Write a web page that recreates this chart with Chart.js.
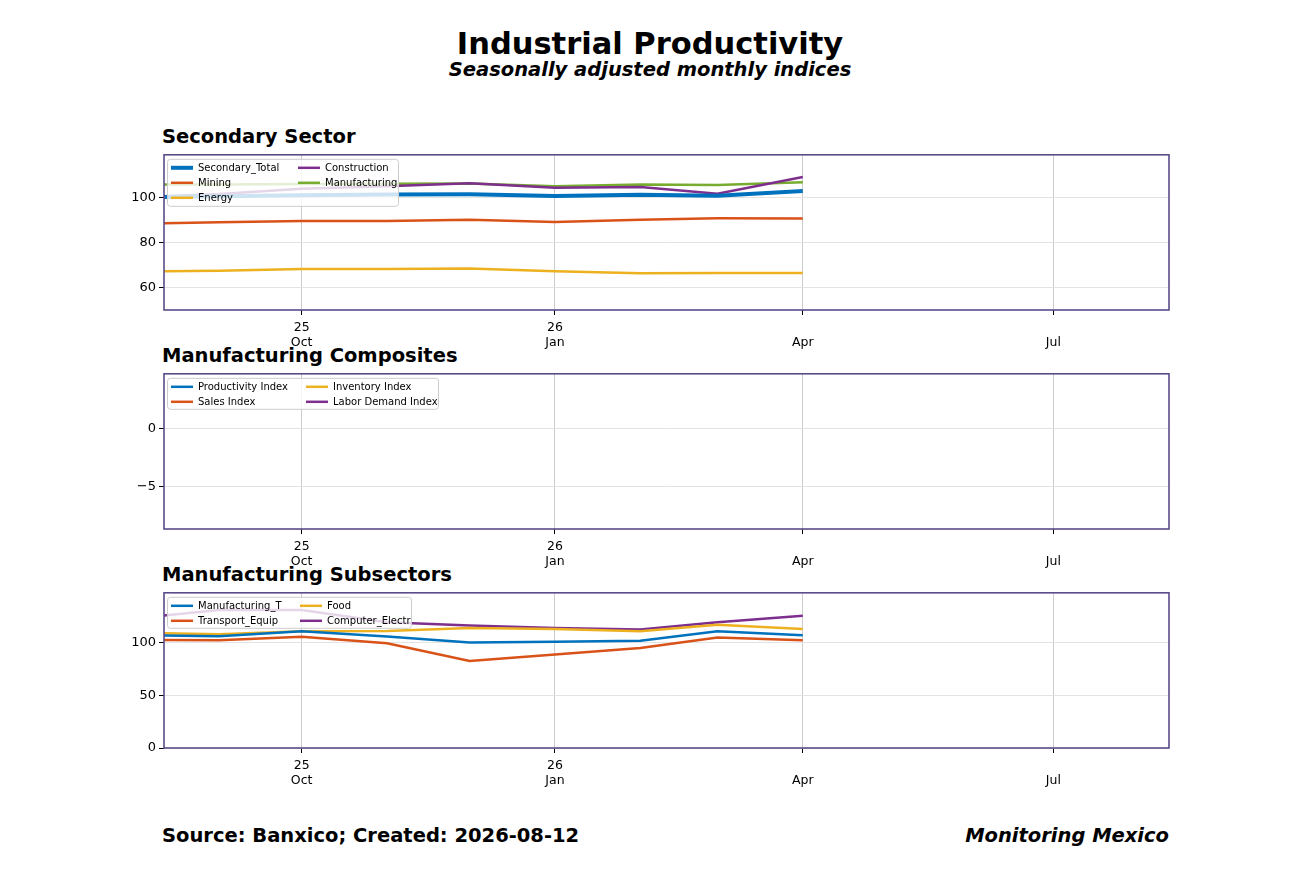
<!DOCTYPE html>
<html><head><meta charset="utf-8">
<script src="https://cdn.jsdelivr.net/npm/chart.js@4.4.0/dist/chart.umd.min.js"></script>
<style>
body{margin:0;width:1300px;height:869px;background:#fff;font-family:"DejaVu Sans",sans-serif;position:relative;overflow:hidden}
.t{position:absolute;font-weight:bold;color:#000;white-space:nowrap}
canvas{position:absolute}
</style></head><body>
<div class="t" style="left:0;width:1300px;text-align:center;top:26px;font-size:30.5px">Industrial Productivity</div>
<div class="t" style="left:0;width:1300px;text-align:center;top:58px;font-size:19.5px;font-style:italic">Seasonally adjusted monthly indices</div>
<div class="t" style="left:162px;top:125px;font-size:19.5px">Secondary Sector</div>
<div class="t" style="left:162px;top:344px;font-size:19.5px">Manufacturing Composites</div>
<div class="t" style="left:162px;top:563px;font-size:19.5px">Manufacturing Subsectors</div>
<div class="t" style="left:162px;top:824px;font-size:19.5px">Source: Banxico; Created: 2026-08-12</div>
<div class="t" style="right:131px;top:824px;font-size:19.5px;font-style:italic">Monitoring Mexico</div>
<div style="position:absolute;left:100px;top:144px;width:1075px;height:211px"><canvas id="a"></canvas></div>
<div style="position:absolute;left:100px;top:363px;width:1075px;height:211px"><canvas id="b"></canvas></div>
<div style="position:absolute;left:100px;top:582px;width:1075px;height:211px"><canvas id="c"></canvas></div>
<script>
// days since 2025-08-01
const monthDays = [0, 31, 61, 92, 122, 153, 184, 212, 243];
const tickDays = [61, 153, 243, 334];
const tickLabels = [["25","Oct"],["26","Jan"],["","Apr"],["","Jul"]];

const secondaryTotal = [100.1, 100.5, 101.0, 101.3, 101.4, 100.7, 101.2, 100.8, 102.9];
const mining = [88.4, 89.0, 89.6, 89.6, 90.1, 89.1, 90.2, 90.8, 90.7];
const energy = [67.2, 67.6, 68.4, 68.4, 68.6, 67.3, 66.5, 66.6, 66.6];
const construction = [100.0, 101.5, 103.9, 105.0, 106.3, 104.3, 104.6, 101.7, 109.1];
const manufacturing = [105.7, 105.8, 106.0, 106.1, 106.2, 105.0, 105.7, 105.5, 106.7];

const productivityIdx = [], salesIdx = [], inventoryIdx = [], laborIdx = [];

const manufT = [106.7, 105.8, 110.4, 105.5, 99.7, 100.5, 101.5, 110.4, 106.7];
const transport = [102.1, 102.0, 105.2, 99.0, 82.3, 88.4, 94.5, 104.6, 102.0];
const food = [109.2, 107.6, 110.4, 110.7, 113.5, 112.5, 110.4, 116.5, 112.5];
const computer = [122.6, 130.6, 130.6, 119.0, 115.9, 113.5, 112.0, 119.0, 125.0];

const BLUE='#0072bd', ORANGE='#d95319', YELLOW='#edb120', PURPLE='#7e2f8e', GREEN='#77ac30';
const pts = arr => arr.map((v,i)=>({x:monthDays[i], y:v}));

function legendPlugin(box){
  return {id:'lg', afterDatasetsDraw(ch){
    const c=ch.ctx, ds=ch.data.datasets, rows=Math.ceil(ds.length/2);
    c.save();
    c.fillStyle='rgba(255,255,255,0.8)'; c.strokeStyle='#cccccc'; c.lineWidth=1;
    const x=ch.chartArea.left+3, y=ch.chartArea.top+4;
    c.beginPath(); c.roundRect(x+0.5,y+0.5,box.w,box.h,3); c.fill(); c.stroke();
    c.font='10px "DejaVu Sans"'; c.textBaseline='middle';
    ds.forEach((d,i)=>{
      const col=Math.floor(i/rows), row=i%rows;
      const lx=x+4+col*box.colW, ly=y+9+row*box.rowH;
      c.strokeStyle=d.borderColor; c.lineWidth=d.borderWidth;
      c.beginPath(); c.moveTo(lx,ly); c.lineTo(lx+22,ly); c.stroke();
      c.fillStyle='#000'; c.fillText(d.label,lx+27,ly+1);
    });
    c.restore();
  }};
}
const frame={id:'fr', afterDraw(ch){
  const a=ch.chartArea,c=ch.ctx; c.save(); c.strokeStyle='#5b4b8a'; c.lineWidth=1.6;
  c.strokeRect(a.left,a.top,a.right-a.left,a.bottom-a.top); c.restore();
}};

function make(id, datasets, ymin, ymax, yticks, box){
  new Chart(document.getElementById(id), {
    type:'line',
    data:{datasets},
    options:{
      responsive:true, maintainAspectRatio:false, animation:false,
      layout:{padding:{top:0,right:6,left:0,bottom:0}},
      plugins:{legend:{display:false}, tooltip:{enabled:false}},
      elements:{point:{radius:0}, line:{tension:0}},
      scales:{
        x:{type:'linear', min:11, max:376,
          afterBuildTicks(s){ s.ticks=tickDays.map(v=>({value:v})); },
          afterFit(s){ s.height=45; },
          ticks:{color:'#000', font:{size:12.5,family:'DejaVu Sans'}, maxRotation:0, autoSkip:false, padding:5,
            callback(v){ const i=tickDays.indexOf(v); return i>=0?tickLabels[i]:''; }},
          grid:{color:'#cccccc', tickColor:'#000', tickLength:5}, border:{display:false}},
        y:{min:ymin, max:ymax,
          afterBuildTicks(s){ s.ticks=yticks.map(v=>({value:v})); },
          afterFit(s){ s.width=64; },
          ticks:{color:'#000', font:{size:13,family:'DejaVu Sans'}, callback:v=>v<0?'\u2212'+Math.abs(v):v},
          grid:{color:'#e3e3e3', tickColor:'#000', tickLength:5}, border:{display:false}}
      }
    },
    plugins:[legendPlugin(box), frame]
  });
}
const L=(label,data,color,w)=>({label,data:pts(data),borderColor:color,backgroundColor:color,borderWidth:w||2.5});

make('a',[L('Secondary_Total',secondaryTotal,BLUE,4),L('Mining',mining,ORANGE),L('Energy',energy,YELLOW),
  L('Construction',construction,PURPLE),L('Manufacturing',manufacturing,GREEN)],50.2,118.9,[60,80,100],{w:231,h:47,colW:127,rowH:15});
make('b',[L('Productivity Index',productivityIdx,BLUE),L('Sales Index',salesIdx,ORANGE),L('Inventory Index',inventoryIdx,YELLOW),
  L('Labor Demand Index',laborIdx,PURPLE)],-8.67,4.67,[-5,0],{w:271,h:31,colW:135,rowH:15});
make('c',[L('Manufacturing_T',manufT,BLUE),L('Transport_Equip',transport,ORANGE),L('Food',food,YELLOW),
  L('Computer_Electr',computer,PURPLE)],0,146.8,[0,50,100],{w:244,h:31,colW:129,rowH:15});
</script>
</body></html>
